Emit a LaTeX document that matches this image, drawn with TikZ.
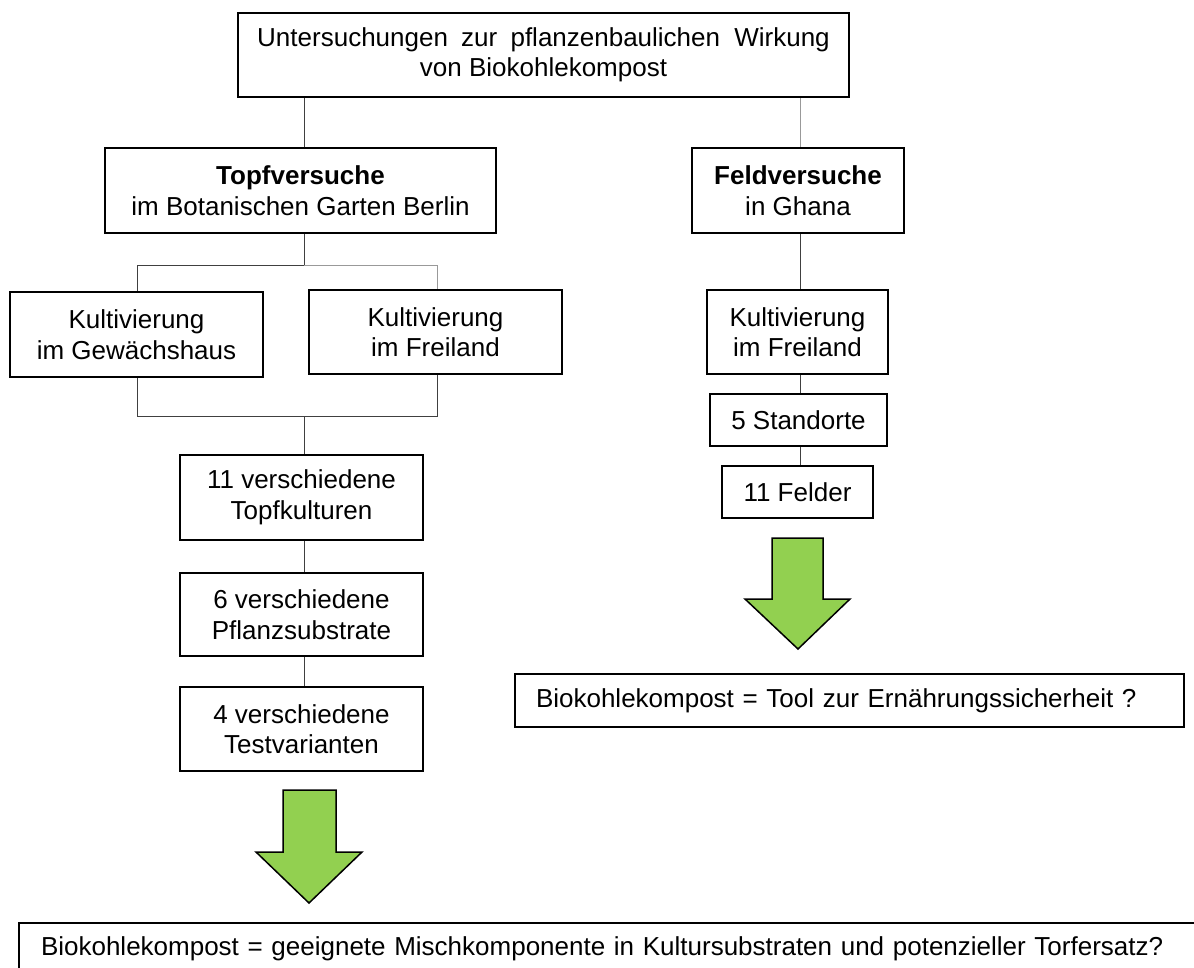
\documentclass[tikz,border=0pt]{standalone}
\usepackage{fontspec}
\setmainfont{Liberation Sans}
\definecolor{arrowgreen}{RGB}{146,208,80}
\begin{document}
\begin{tikzpicture}[x=1pt,y=-1pt,
  box/.style={draw=black, line width=2pt, fill=white, align=center, inner sep=0pt, font=\fontsize{26}{30.5}\selectfont},
  resbox/.style={box, anchor=north west, align=left, inner ysep=0pt},
  conn/.style={draw=black!75, line width=1pt},
  gconn/.style={draw=black!40, line width=1pt},
  bigarrow/.style={draw=black, line width=1.5pt, fill=arrowgreen, line join=miter}]
\useasboundingbox (0,0) rectangle (1194,967);
% boxes
\node[box, minimum width=611, minimum height=84] (top) at (543.5,55) {Untersuchungen\hspace{6pt} zur\hspace{6pt} pflanzenbaulichen\hspace{7pt} Wirkung\\von Biokohlekompost};
\node[box, minimum width=391, minimum height=85] (topf) at (300.5,190.5) {\textbf{Topfversuche}\\im Botanischen Garten Berlin};
\node[box, minimum width=212, minimum height=85] (feld) at (798,190.5) {\textbf{Feldversuche}\\in Ghana};
\node[box, minimum width=253, minimum height=85] (kult1) at (136.5,334.5) {Kultivierung\\im Gewächshaus};
\node[box, minimum width=253, minimum height=84] (kult2) at (435.5,332) {Kultivierung\\im Freiland};
\node[box, minimum width=181, minimum height=84] (kult3) at (797.5,332) {Kultivierung\\im Freiland};
\node[box, minimum width=177, minimum height=52] (stand) at (798.5,420) {5 Standorte};
\node[box, minimum width=151, minimum height=52] (felder) at (797.5,492) {11 Felder};
\node[box, minimum width=243, minimum height=85] (k11) at (301.5,497.5) {11 verschiedene\\Topfkulturen};
\node[box, minimum width=243, minimum height=83] (k6) at (301.5,614.5) {6 verschiedene\\Pflanzsubstrate};
\node[box, minimum width=243, minimum height=84] (k4) at (301.5,729) {4 verschiedene\\Testvarianten};
\node[resbox, text width=627, inner xsep=21pt, minimum height=53] (res2) at (514,673) {Biokohlekompost = Tool zur Ernährungssicherheit ?};
\node[resbox, text width=1160, inner xsep=22pt, minimum height=52] (res1) at (18,922) {Biokohlekompost = geeignete Mischkomponente in Kultursubstraten und potenzieller Torfersatz?};
% connector guide coordinates
\coordinate (xl) at (304,0);
\coordinate (xr) at (800,0);
\coordinate (xa) at (137,0);
\coordinate (xb) at (437,0);
\coordinate (ysplit) at (0,265);
\coordinate (yjoin) at (0,416);
% connectors
\draw[conn] (top.south -| xl) -- (topf.north -| xl);
\draw[gconn] (top.south -| xr) -- (feld.north -| xr);
\draw[conn] (topf.south -| xl) -- (xl |- ysplit) -- (xa |- ysplit) -- (kult1.north -| xa);
\draw[gconn] (xl |- ysplit) -- (xb |- ysplit) -- (kult2.north -| xb);
\draw[conn] (kult1.south -| xa) -- (xa |- yjoin) -- (xb |- yjoin) -- (kult2.south -| xb);
\draw[conn] (xl |- yjoin) -- (k11.north -| xl);
\draw[conn] (k11.south -| xl) -- (k6.north -| xl);
\draw[conn] (k6.south -| xl) -- (k4.north -| xl);
\draw[conn] (feld.south -| xr) -- (kult3.north -| xr);
\draw[conn] (kult3.south -| xr) -- (stand.north -| xr);
\draw[conn] (stand.south -| xr) -- (felder.north -| xr);
% green arrows
\draw[bigarrow] (283,790) -- (336,790) -- (336,852) -- (362,852) -- (309,903) -- (256,852) -- (283,852) -- cycle;
\draw[bigarrow] (772,538) -- (823,538) -- (823,599) -- (850,599) -- (798,649) -- (745,599) -- (772,599) -- cycle;
\end{tikzpicture}
\end{document}
